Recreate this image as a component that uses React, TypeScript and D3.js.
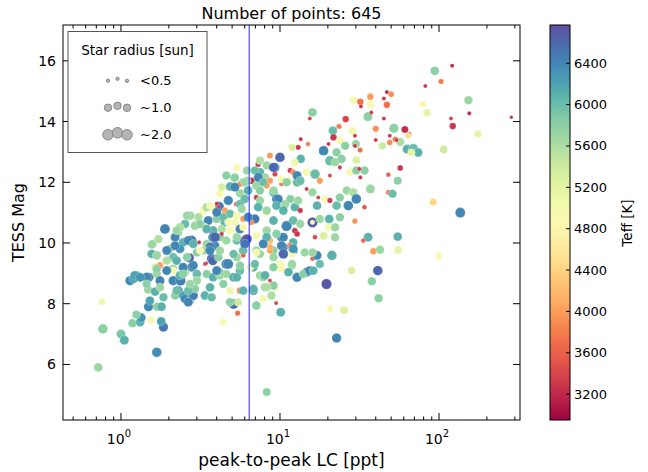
import React from "react";
import * as d3 from "d3";

// [ppt, TESS mag, Teff, radius]
const lowLeftStars: number[][] = [
  [0.72,5.9,5700,1.4],[0.77,7.17,5800,1.7],[0.76,8.07,5100,0.8],[1.0,7.0,5900,1.5],[1.05,6.8,6100,1.5],
  [1.68,6.4,6350,1.7],[1.85,7.23,6500,1.6],[1.79,7.42,6200,1.4],[1.18,7.36,5800,1.3],[1.32,7.39,6100,1.4],
  [1.34,7.54,6300,1.5],[1.25,7.64,5800,1.2],[1.54,7.47,5000,1.0],[1.49,7.9,6400,1.6],[1.69,7.9,5800,1.3],
  [1.8,7.9,6100,1.4],[1.52,8.1,6200,1.4],[1.48,8.47,5700,1.3],[1.64,8.4,6100,1.4],[1.85,8.21,6000,1.3],
  [1.14,8.76,6400,1.6],[1.25,8.93,6100,1.5],[1.2,8.82,6200,1.5],[1.5,8.87,6400,1.5],[1.68,8.98,5700,1.3],
  [1.76,8.76,6400,1.5],[1.64,9.2,5300,1.1],[1.76,9.26,4000,0.8],[1.56,9.64,6100,1.4],[1.68,9.59,5700,1.4],
  [1.58,9.97,5800,1.3],[2.13,8.76,6400,1.6],[2.37,8.76,6450,1.8],[2.29,8.43,6450,1.5],[2.19,8.27,5800,1.3],
  [2.46,8.27,6200,1.4],[2.53,8.16,6400,1.5],[2.72,8.1,5700,1.4],[2.85,8.27,6450,1.6],[2.92,8.49,5800,1.3],
  [2.65,8.43,6000,1.4],[2.65,8.05,6400,1.5],[3.37,8.27,6100,1.4],[3.72,8.21,6000,1.3],[2.13,9.15,5700,1.3],
  [2.35,8.93,6100,1.4],[2.78,9.2,6400,1.5],[2.53,9.04,5600,1.3],[3.0,8.98,6000,1.4],[3.0,8.76,5700,1.3],
  [3.46,8.98,5800,1.3],[3.8,8.87,6100,1.4],[4.19,8.93,5700,1.3],[4.6,8.98,5700,1.3],[5.1,8.87,6100,1.4],
  [4.6,9.31,6400,1.8],[4.1,9.09,5100,1.0],[3.72,9.48,6600,1.7],[3.37,9.31,3300,0.3],[3.3,9.75,5000,1.0],
  [3.46,9.97,5700,1.3],[3.9,9.91,6400,1.5],[5.1,7.99,6600,1.8],[4.85,8.05,5800,1.3],[5.45,8.05,5400,1.1],
  [5.6,8.43,3900,0.8],[5.42,7.69,3700,0.5],[4.4,7.39,4900,0.9],[6.8,8.43,6100,1.5],[7.1,7.94,5800,1.4],
  [7.8,8.16,5000,1.0],[8.85,8.27,5600,1.3],[9.3,8.54,5000,1.0],[8.65,8.76,3400,0.3],[9.45,8.02,3400,0.3],
  [8.25,5.09,5800,1.2],[10.1,7.72,6100,1.5],[7.48,8.93,5700,1.3],[6.8,8.49,6100,1.4],[7.85,8.87,5700,1.3],
  [9.1,8.54,3900,0.4],[8.05,8.54,5800,1.3],[10.2,9.2,5000,1.0],[11.9,9.26,5600,1.3],[12.8,8.87,6400,1.6],
];

const coreStars: number[][] = [
  [5.17,12.14,5800,1.3],[5.87,12.0,5700,1.3],[4.85,11.86,6100,1.4],[4.19,11.62,5000,1.1],[4.73,11.4,6400,1.6],
  [5.6,11.64,5700,1.3],[5.3,11.28,3600,0.4],[5.6,11.28,6000,1.3],[4.15,11.2,6500,1.6],[4.0,11.3,3300,0.3],
  [4.5,11.07,4000,0.7],[4.85,10.96,6000,1.3],[3.72,11.18,5100,1.0],[3.3,11.07,5000,1.1],[2.72,10.9,5700,1.4],
  [3.07,10.85,5600,1.3],[3.54,10.74,6400,1.5],[4.0,10.79,5800,1.3],[4.5,10.68,6100,1.4],[5.2,10.68,5000,1.0],
  [5.87,10.79,4000,0.7],[2.53,10.63,6000,1.4],[2.92,10.57,5700,1.4],[3.37,10.52,5100,1.1],[3.8,10.41,6100,1.4],
  [4.3,10.46,5600,1.3],[4.85,10.41,5000,1.1],[5.6,10.46,6400,1.5],[1.89,10.46,6400,1.8],[2.29,10.35,5700,1.4],
  [2.19,10.19,6400,1.5],[1.56,9.95,5700,1.3],[1.72,10.13,5600,1.3],[2.46,10.02,6100,1.4],[2.78,10.08,6500,1.8],
  [3.1,10.02,3300,0.3],[3.8,10.19,6400,1.8],[4.19,10.19,5800,1.3],[3.63,9.86,6500,1.6],[4.6,10.08,5700,1.3],
  [5.35,10.08,6000,1.3],[6.0,10.08,6600,1.7],[2.35,9.81,6300,1.5],[2.69,9.51,6700,1.6],[2.03,9.81,5700,1.3],
  [2.13,9.53,6000,1.4],[3.0,9.69,5800,1.3],[3.33,9.75,5700,1.3],[3.43,9.33,3400,0.3],[3.78,9.42,6600,1.6],
  [4.1,9.53,5800,1.3],[4.73,9.31,6400,1.8],[5.35,9.53,5700,1.3],[5.87,9.75,6000,1.4],[1.94,9.42,5600,1.3],
  [1.68,9.15,5800,1.3],[2.13,9.09,5000,1.0],[2.46,9.2,6400,1.5],[2.85,9.26,6400,1.5],[1.22,8.93,6200,1.5],
  [1.45,8.87,6400,1.6],[4.19,9.04,5700,1.3],[5.6,9.09,6000,1.4],
];

const coreExtraStars: number[][] = [
  [2.6,10.9,5700,1.3],[2.35,10.52,5600,1.3],[3.14,10.63,5800,1.3],[3.46,10.46,6100,1.4],[4.4,10.85,6000,1.3],
  [5.35,10.9,5000,1.0],[5.75,11.12,5700,1.3],[6.3,11.73,6100,1.4],[6.2,12.39,5700,1.3],[5.35,12.49,4900,1.0],
  [4.6,12.22,5800,1.3],[1.94,9.75,6400,1.5],[2.24,9.42,6100,1.4],[2.6,9.53,5800,1.3],[3.14,9.75,5000,1.0],
  [3.63,9.75,6400,1.5],[4.19,9.75,5700,1.3],[5.1,9.64,6000,1.3],[5.6,9.26,5800,1.3],[4.0,9.09,6400,1.5],
  [2.46,8.98,5800,1.3],[1.94,9.09,6400,1.5],[1.32,8.87,6300,1.5],[1.45,8.65,5800,1.3],[1.76,8.54,5700,1.3],
  [2.24,8.43,6000,1.4],[2.72,8.65,5700,1.3],[3.63,8.54,6100,1.4],[4.4,8.65,5800,1.3],[4.85,8.43,5100,1.0],
  [5.87,8.43,6100,1.4],
];

const nearLineStars: number[][] = [
  [10.0,12.82,6600,1.7],[8.9,12.49,3300,0.6],[9.3,12.27,3400,0.5],[7.48,12.33,6100,1.4],[8.05,12.16,5700,1.3],
  [6.6,12.05,3200,0.8],[7.1,11.89,5700,1.3],[8.25,11.89,4000,0.7],[10.2,11.94,3800,0.4],[11.3,12.05,5000,1.0],
  [12.8,12.0,6000,1.4],[9.1,11.67,6100,1.4],[9.5,11.45,6400,1.5],[7.1,11.5,3300,0.5],[7.48,11.4,5700,1.3],
  [10.8,11.28,5700,1.3],[12.4,11.18,6100,1.4],[8.25,11.01,5000,1.0],[6.95,10.79,6500,1.6],[6.6,10.68,3900,0.6],
  [9.1,10.74,6100,1.4],[11.0,10.57,6400,1.8],[12.4,10.41,3300,0.6],[8.25,10.41,5700,1.3],[7.1,10.24,5000,1.0],
  [10.2,10.19,6400,1.5],[8.65,10.08,4200,0.8],[10.5,9.86,6400,1.5],[12.1,10.02,6100,1.4],[9.1,9.75,5800,1.3],
  [7.1,9.75,5700,1.3],[6.8,9.2,6100,1.4],[5.2,12.16,5800,1.3],[5.6,11.94,3900,0.6],[6.0,11.45,6000,1.4],
  [6.3,10.85,6400,1.5],[5.87,10.52,5000,1.0],[6.2,10.13,6700,1.7],[5.35,10.19,5700,1.3],[4.73,10.68,5000,1.0],
  [3.9,10.19,6600,1.8],[4.3,10.3,3300,0.3],[5.87,9.59,3600,0.4],[5.35,8.87,6100,1.4],[2.24,10.41,5700,1.3],
  [2.65,10.08,6400,1.5],[2.85,9.97,6100,1.4],[3.46,11.18,5600,1.3],[4.1,11.18,3300,0.3],[4.0,11.01,6400,1.5],
  [5.2,11.84,6400,1.5],[4.3,11.84,5300,1.1],[3.63,11.23,5000,1.0],[7.3,12.6,3200,0.6],[8.65,12.88,4000,0.7],
  [6.48,9.2,5000,1.0],[7.48,9.64,5700,1.3],[12.1,9.75,6400,1.5],[14.7,9.04,6400,1.5],[10.0,9.31,5000,1.0],
  [8.65,9.75,4000,0.7],[11.6,9.91,3900,0.7],[2.19,9.91,6400,1.5],
];

const upperMidStars: number[][] = [
  [16.0,14.3,5800,1.4],[15.4,14.1,3400,0.3],[25.9,14.08,3400,0.8],[23.5,13.84,3800,0.5],[28.3,13.72,3300,0.3],
  [21.5,13.7,6000,1.4],[21.7,13.48,3300,0.8],[29.6,13.53,3300,0.3],[23.8,13.37,4900,1.0],[13.5,13.42,3300,0.3],
  [15.0,13.26,3800,0.4],[13.0,13.15,3300,0.5],[11.9,13.15,5300,1.0],[18.8,13.04,6400,1.7],[20.2,13.26,3300,0.3],
  [25.7,13.2,5800,1.3],[30.0,13.26,5700,1.3],[22.7,12.99,5800,1.3],[13.5,12.77,6100,1.4],[12.4,12.66,5100,1.0],
  [9.3,12.49,6400,1.5],[7.48,12.71,5600,1.2],[8.25,12.55,5700,1.3],[11.6,12.39,3300,0.5],[12.1,12.33,3900,0.6],
  [12.8,12.22,6400,1.5],[14.7,12.33,5000,1.0],[16.6,12.27,6000,1.7],[20.6,12.71,6000,1.7],[22.2,12.66,5700,1.3],
  [24.4,12.77,5800,1.3],[23.8,12.49,3300,0.3],[27.5,12.33,5000,1.0],[30.2,12.39,5800,1.3],[17.8,12.05,4000,0.7],
  [20.6,12.22,3400,0.3],[6.95,12.39,6000,1.3],[6.2,12.05,5700,1.3],[7.3,12.16,6400,1.5],[7.85,12.0,6000,1.3],
  [8.65,12.05,4000,0.7],[10.2,12.1,5000,1.0],[11.0,12.0,5800,1.3],[13.4,12.05,6000,1.4],[14.7,11.78,3300,0.3],
  [16.0,11.67,5700,1.3],[17.4,11.5,3400,0.3],[19.2,11.45,5000,1.0],[20.6,11.4,3300,0.5],[23.8,11.5,5800,1.3],
  [26.3,11.73,5700,1.3],[28.9,11.67,5600,1.3],[22.7,11.23,6000,1.4],[26.9,11.23,6400,1.7],[29.6,10.74,3300,0.3],
  [17.1,11.23,6100,1.4],[13.0,11.4,5700,1.3],[11.6,11.45,5800,1.3],[9.75,11.45,6400,1.5],[9.1,11.73,5700,1.3],
  [7.48,11.73,5800,1.3],[6.0,12.0,5700,1.3],[7.3,11.18,6100,1.4],[8.25,11.07,5700,1.3],[9.5,11.23,6100,1.4],
  [10.5,11.07,6100,1.4],[12.1,10.74,6000,1.4],[13.4,11.07,3300,0.5],[16.0,10.68,6700,1.9],[16.0,10.68,4900,0.4],
  [17.8,10.79,5700,1.3],[20.4,10.79,6100,1.4],[23.8,10.85,5800,1.3],
];

const lowerMidStars: number[][] = [
  [11.0,10.55,6400,1.8],[13.4,10.63,5700,1.3],[20.2,10.52,5000,1.0],[22.2,10.52,5700,1.3],[12.8,10.3,3300,0.6],
  [16.6,10.19,3400,0.4],[18.8,10.24,5300,1.1],[22.2,10.19,5700,1.3],[10.5,10.19,6400,1.5],[9.5,10.3,5800,1.3],
  [8.25,10.19,6100,1.4],[7.85,9.97,6400,1.5],[8.65,9.86,4100,0.7],[10.2,9.91,6400,1.5],[10.5,9.64,6600,1.7],
  [11.9,9.64,5000,1.0],[12.1,9.81,6300,1.5],[14.3,9.69,5700,1.3],[16.0,9.48,3600,0.4],[17.1,9.59,6400,1.5],
  [21.2,9.59,6100,1.7],[16.0,9.69,5700,1.3],[17.8,9.31,6000,1.3],[9.1,9.53,5700,1.3],[7.1,9.69,5000,1.0],
  [6.0,9.97,6500,1.5],[6.95,9.31,6000,1.3],[9.1,9.2,5800,1.3],[10.2,9.15,5000,1.0],[11.9,9.31,5700,1.3],
  [11.3,9.04,6100,1.4],[14.0,8.98,5800,1.3],[15.4,9.09,6400,1.5],[16.2,9.09,6100,1.4],[19.6,8.65,6700,1.9],
  [28.2,9.09,5300,1.1],[8.05,8.93,6100,1.4],[9.1,8.6,5800,1.3],[8.25,8.54,5600,1.3],[20.6,7.83,4800,0.8],
  [25.3,7.78,5300,1.1],
];

const rightStars: number[][] = [
  [136,11.0,6400,1.8],[92,11.35,4400,0.9],[29.6,10.72,3900,0.5],[34,11.18,3500,0.4],[35.8,10.19,6100,1.5],
  [33.4,10.08,3600,0.4],[55,10.21,6100,1.4],[38.7,9.73,4000,0.8],[42.6,9.78,5700,1.3],[55.4,9.77,5200,1.1],
  [100,9.57,4900,1.0],[41.2,9.09,6600,1.7],[37.8,8.74,5800,1.3],[41.7,8.18,5800,1.3],[22.7,6.87,6400,1.6],
  [94,15.67,5800,1.4],[121,15.84,3200,0.3],[103,15.32,3800,0.5],[82,15.17,3300,0.3],[47,14.97,3200,0.3],
  [50,14.9,3900,0.6],[45,14.76,3300,0.3],[47,14.55,3700,0.8],[79,14.57,4800,0.9],[84,14.29,5200,1.0],
  [153,14.7,5700,1.3],[119,14.1,3400,0.3],[155,14.27,3200,0.3],[285,14.14,3200,0.2],[45,14.1,3300,0.3],
  [52,13.78,5800,1.6],[61,13.74,3200,0.9],[65,13.59,3500,0.4],[64,13.54,4500,0.7],[122,13.85,3300,0.8],
  [176,13.59,5200,1.0],[49,13.53,3300,0.3],[53,13.42,3800,0.5],[49,13.31,3900,0.6],[57,13.33,5600,1.3],
  [44,13.2,5400,1.1],[63,13.09,6100,1.5],[69,13.11,6000,1.6],[74,12.98,6100,1.4],[67,12.98,5200,1.0],
  [107,13.08,5400,1.1],[57,12.47,3300,0.6],[48,12.25,3600,0.4],[55,12.05,5800,1.2],[48,11.67,3800,0.5],
  [51,11.62,6000,1.3],[29,14.7,5000,1.0],[32,14.65,3700,0.8],[37,14.82,4000,0.8],[37,14.57,4900,1.0],
  [32.3,14.5,3300,0.3],[35.7,14.16,5800,1.5],[37.5,14.3,3300,0.3],[28.5,13.7,5100,1.0],[40,13.76,3900,0.7],
  [29.6,13.2,3300,0.3],[31.9,13.06,3700,0.5],[40,13.39,3300,0.3],[54,13.39,3300,0.3],[30.2,12.73,5300,1.1],
  [34,12.39,5800,1.3],[31.5,12.44,3300,0.3],[32,12.16,3300,0.3],[37,11.78,5700,1.5],[30.2,11.45,6400,1.7],
  [9.1,12.49,6600,1.6],
];

const stars = [
  ...lowLeftStars, ...coreStars, ...coreExtraStars, ...nearLineStars,
  ...upperMidStars, ...lowerMidStars, ...rightStars,
];

const titleText = "Number of points: 645";
const xLabel = "peak-to-peak LC [ppt]";
const yLabel = "TESS Mag";
const cbLabel = "Teff [K]";
const legendTitle = "Star radius [sun]";
const legendLabels = ["<0.5", "~1.0", "~2.0"];
const legendRadii = [0.2, 1.0, 2.0];
const yTicks = [6, 8, 10, 12, 14, 16];
const xMajor = [1, 10, 100];
const xMajorExp = ["0", "1", "2"];
const cbTicks = [3200, 3600, 4000, 4400, 4800, 5200, 5600, 6000, 6400];
const cutLine = 6.4;

const W = 648, H = 472;
const L = 63, R = 520, T = 25, B = 420;
const FONT = "DejaVu Sans, sans-serif";

export default function App() {
  const x = d3.scaleLog().domain([0.432, 323]).range([L, R]);
  const y = d3.scaleLinear().domain([4.17, 17.18]).range([B, T]);
  const color = d3.scaleSequential(d3.interpolateSpectral).domain([2950, 6770]);
  const rad = d3.scaleSqrt().domain([0, 2]).range([0, 5.3]);
  const cbY = d3.scaleLinear().domain([2950, 6770]).range([B, T]);

  const minor: number[] = [];
  for (const dec of [0.1, 1, 10, 100]) {
    for (let k = 2; k <= 9; k++) {
      const v = dec * k;
      if (v > 0.432 && v < 323) minor.push(v);
    }
  }
  const stops = d3.range(0, 1.0001, 0.05);
  const legRowY = [80, 107, 134];
  const legX = [108, 117.5, 127];
  const legDy = [0.7, -1.2, 0.8];

  return (
    <svg width={W} height={H} style={{ position: "absolute", left: 0, top: 0, background: "white" }} fontFamily={FONT}>
      <defs>
        <linearGradient id="cb" x1="0" y1="1" x2="0" y2="0">
          {stops.map((s) => (
            <stop key={s} offset={s} stopColor={color(2950 + s * (6770 - 2950))} />
          ))}
        </linearGradient>
        <clipPath id="plot"><rect x={L} y={T} width={R - L} height={B - T} /></clipPath>
      </defs>
      <rect x={0} y={0} width={W} height={H} fill="white" />
      <g clipPath="url(#plot)">
        {stars.map((d, i) => (
          <circle key={i} cx={x(d[0])} cy={y(d[1])} r={rad(d[3])} fill={color(d[2])} stroke="white" strokeWidth={0.4} strokeOpacity={0.6} />
        ))}
        <line x1={x(cutLine)} x2={x(cutLine)} y1={T} y2={B} stroke="#2a2aee" strokeWidth={1} />
      </g>
      <rect x={L} y={T} width={R - L} height={B - T} fill="none" stroke="black" strokeWidth={1} />
      {xMajor.map((v, i) => (
        <g key={"xm" + v}>
          <line x1={x(v)} x2={x(v)} y1={B} y2={B - 7} stroke="black" />
          <line x1={x(v)} x2={x(v)} y1={T} y2={T + 7} stroke="black" />
          <text x={x(v) - 2} y={444} textAnchor="middle" fontSize={14}>
            10<tspan dy={-7} fontSize={10}>{xMajorExp[i]}</tspan>
          </text>
        </g>
      ))}
      {minor.map((v) => (
        <g key={"xn" + v}>
          <line x1={x(v)} x2={x(v)} y1={B} y2={B - 3.5} stroke="black" />
          <line x1={x(v)} x2={x(v)} y1={T} y2={T + 3.5} stroke="black" />
        </g>
      ))}
      {yTicks.map((v) => (
        <g key={"y" + v}>
          <line x1={L} x2={L + 7} y1={y(v)} y2={y(v)} stroke="black" />
          <line x1={R} x2={R - 7} y1={y(v)} y2={y(v)} stroke="black" />
          <text x={L - 7} y={y(v) + 5} textAnchor="end" fontSize={14}>{v}</text>
        </g>
      ))}
      <text x={(L + R) / 2} y={19} textAnchor="middle" fontSize={16}>{titleText}</text>
      <text x={(L + R) / 2} y={466} textAnchor="middle" fontSize={17}>{xLabel}</text>
      <text transform={`translate(24,${(T + B) / 2}) rotate(-90)`} textAnchor="middle" fontSize={16}>{yLabel}</text>

      <rect x={68} y={31.5} width={139} height={121} fill="white" stroke="#555" strokeWidth={1} />
      <text x={137.5} y={55} textAnchor="middle" fontSize={13.5}>{legendTitle}</text>
      {legendRadii.map((rv, i) => (
        <g key={"lg" + i}>
          {legX.map((lx, j) => (
            <circle key={j} cx={lx} cy={legRowY[i] + legDy[j]} r={rad(rv)} fill="#b4b4b4" stroke="#777" strokeWidth={0.8} />
          ))}
          <text x={140} y={legRowY[i] + 4.5} fontSize={13}>{legendLabels[i]}</text>
        </g>
      ))}

      <rect x={550} y={T} width={20} height={B - T} fill="url(#cb)" stroke="black" strokeWidth={1} />
      {cbTicks.map((v) => (
        <g key={"cb" + v}>
          <line x1={566} x2={570} y1={cbY(v)} y2={cbY(v)} stroke="black" />
          <text x={574} y={cbY(v) + 4.5} fontSize={13}>{v}</text>
        </g>
      ))}
      <text transform={`translate(632,223) rotate(-90)`} textAnchor="middle" fontSize={13.5}>{cbLabel}</text>
    </svg>
  );
}
